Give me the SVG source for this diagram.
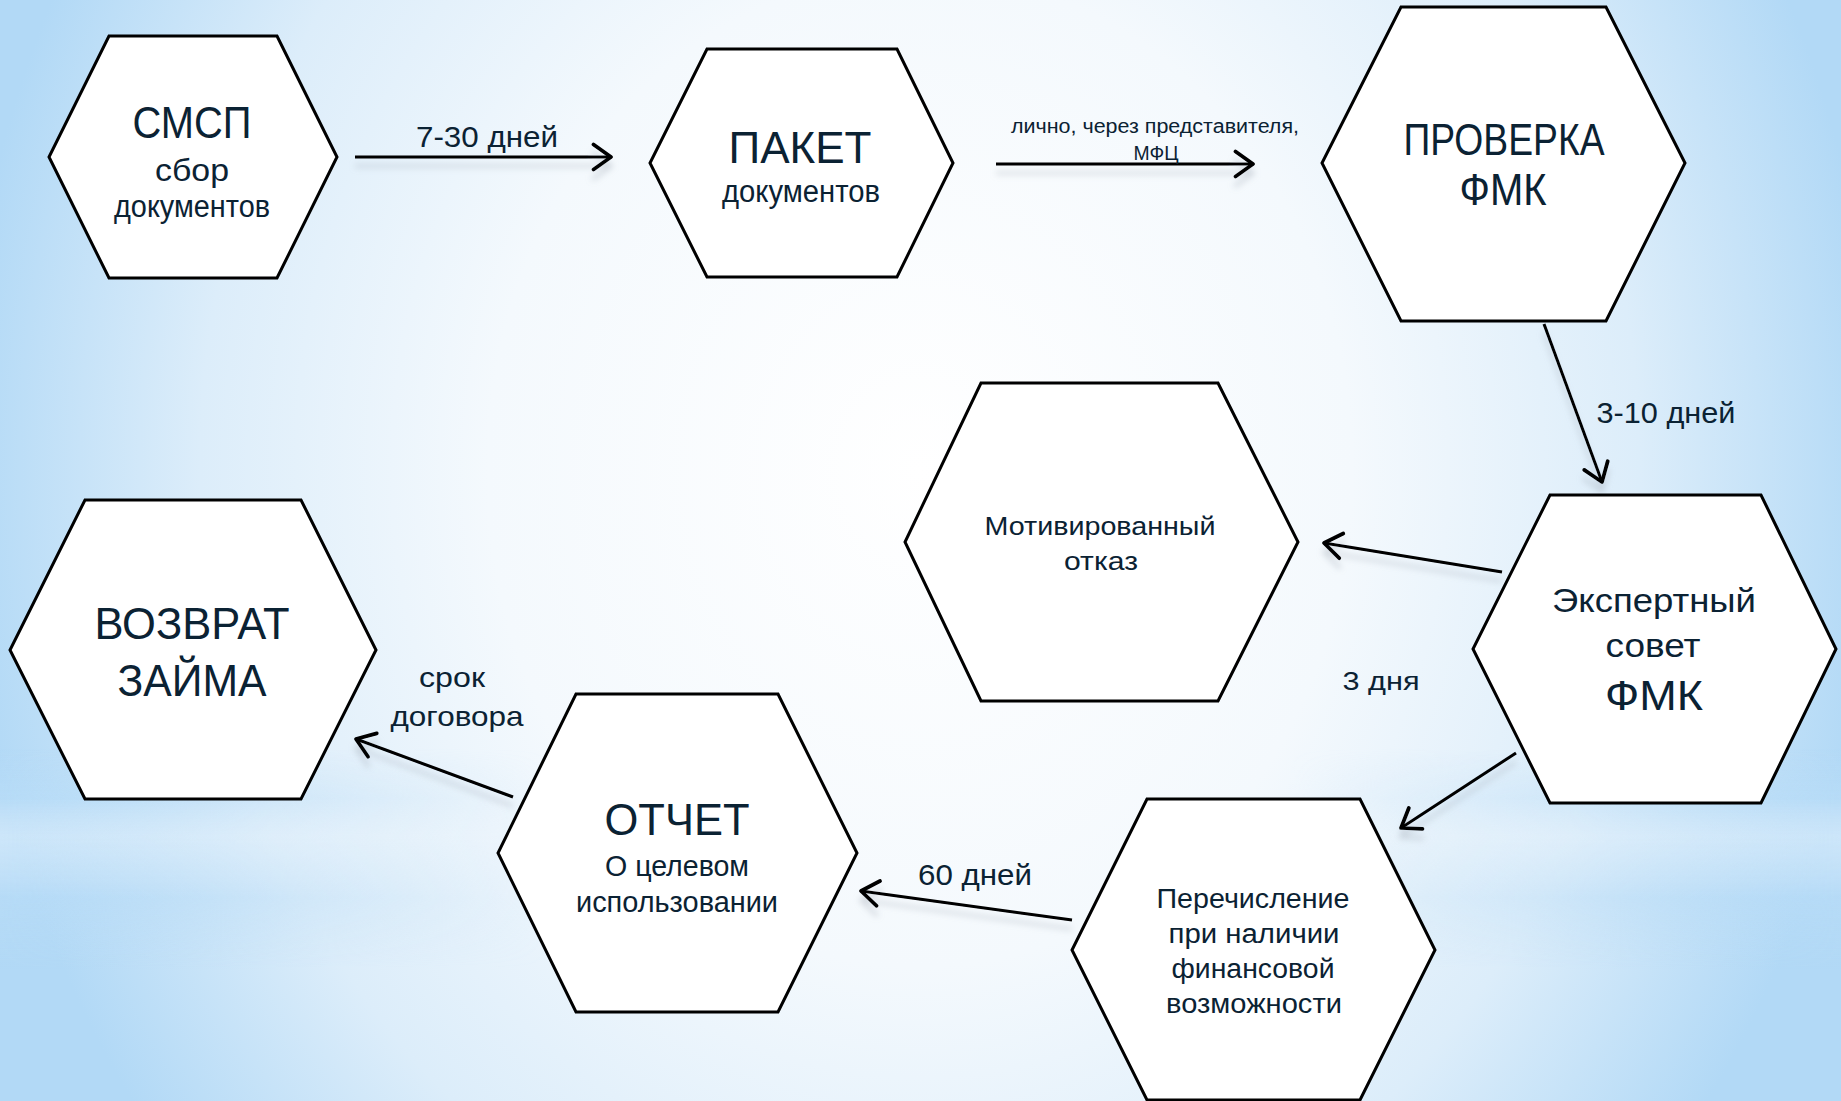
<svg xmlns="http://www.w3.org/2000/svg" width="1841" height="1101" viewBox="0 0 1841 1101">
<defs>
<radialGradient id="bg" gradientUnits="userSpaceOnUse" cx="920" cy="470" r="960" gradientTransform="translate(920 470) scale(1 1.15) translate(-920 -470)">
<stop offset="0" stop-color="#ffffff"/>
<stop offset="0.45" stop-color="#f4f9fd"/>
<stop offset="0.75" stop-color="#dcedfa"/>
<stop offset="1" stop-color="#b2d9f6"/>
</radialGradient>
<linearGradient id="band" x1="0" y1="0" x2="0" y2="1101" gradientUnits="userSpaceOnUse">
<stop offset="0.68" stop-color="#b8dcf7" stop-opacity="0"/>
<stop offset="0.725" stop-color="#b8dcf7" stop-opacity="0.7"/>
<stop offset="0.76" stop-color="#e6f2fc" stop-opacity="0.5"/>
<stop offset="0.815" stop-color="#b8dcf7" stop-opacity="0.7"/>
<stop offset="0.88" stop-color="#b8dcf7" stop-opacity="0"/>
</linearGradient>
<linearGradient id="fadeX" x1="0" y1="0" x2="1841" y2="0" gradientUnits="userSpaceOnUse">
<stop offset="0" stop-color="#fff"/>
<stop offset="0.3" stop-color="#000"/>
<stop offset="0.7" stop-color="#000"/>
<stop offset="1" stop-color="#fff"/>
</linearGradient>
<mask id="edgeMask"><rect width="1841" height="1101" fill="url(#fadeX)"/></mask>
<filter id="shadow" x="-20%" y="-50%" width="140%" height="200%">
<feDropShadow dx="0" dy="9" stdDeviation="3" flood-color="#9aa3ad" flood-opacity="0.4"/>
</filter>
<marker id="arr" markerUnits="userSpaceOnUse" markerWidth="30" markerHeight="30" viewBox="-16 -12 20 24" refX="0" refY="0" orient="auto">
<path d="M-14,-10 L0,0 L-14,10" fill="none" stroke="#000" stroke-width="3" stroke-linecap="round" stroke-linejoin="round"/>
</marker>
</defs>
<style>
.hex{fill:#ffffff;stroke:#000;stroke-width:3;stroke-linejoin:miter}
.t{font-family:"Liberation Sans",Arial,sans-serif;fill:#0b2233;text-anchor:middle}
.big{font-size:44px}
.sub{font-size:31px}
.lbl{font-size:30px}
.conn{stroke:#000;stroke-width:3;fill:none;marker-end:url(#arr)}
</style>
<rect width="1841" height="1101" fill="url(#bg)"/>
<rect width="1841" height="1101" fill="url(#band)" mask="url(#edgeMask)"/>

<g id="connectors" filter="url(#shadow)">
<line id="c1" class="conn" x1="355" y1="157" x2="611" y2="157"/>
<line id="c2" class="conn" x1="996" y1="164" x2="1253" y2="164"/>
<line id="c3" class="conn" x1="1544" y1="324" x2="1602" y2="482"/>
<line id="c4" class="conn" x1="1502" y1="572" x2="1324" y2="543"/>
<line id="c5" class="conn" x1="1516" y1="753" x2="1401" y2="828"/>
<line id="c6" class="conn" x1="1072" y1="920" x2="861" y2="891"/>
<line id="c7" class="conn" x1="513" y1="797" x2="356" y2="739"/>
</g>

<g id="labels">
<text class="t lbl" x="487" y="147" textLength="142" lengthAdjust="spacingAndGlyphs">7-30 дней</text>
<text class="t" style="font-size:20px" x="1155" y="133" textLength="288" lengthAdjust="spacingAndGlyphs">лично, через представителя,</text>
<text class="t" style="font-size:20px" x="1156" y="160" textLength="45" lengthAdjust="spacingAndGlyphs">МФЦ</text>
<text class="t lbl" x="1666" y="423" textLength="139" lengthAdjust="spacingAndGlyphs">3-10 дней</text>
<text class="t" style="font-size:26px" x="1381" y="690" textLength="77" lengthAdjust="spacingAndGlyphs">3 дня</text>
<text class="t lbl" x="975" y="885" textLength="114" lengthAdjust="spacingAndGlyphs">60 дней</text>
<text class="t" style="font-size:28px" x="452" y="687" textLength="66" lengthAdjust="spacingAndGlyphs">срок</text>
<text class="t" style="font-size:28px" x="457" y="726" textLength="133" lengthAdjust="spacingAndGlyphs">договора</text>
</g>

<g id="node-smsp">
<polygon class="hex" points="109,36 277,36 337,157 277,278 109,278 49,157"/>
<text class="t big" x="192" y="138" textLength="119" lengthAdjust="spacingAndGlyphs">СМСП</text>
<text class="t sub" x="192" y="181" textLength="74" lengthAdjust="spacingAndGlyphs">сбор</text>
<text class="t sub" x="192" y="217" textLength="156" lengthAdjust="spacingAndGlyphs">документов</text>
</g>

<g id="node-paket">
<polygon class="hex" points="707,49 897,49 953,163 897,277 707,277 650,163"/>
<text class="t big" x="800" y="163" textLength="143" lengthAdjust="spacingAndGlyphs">ПАКЕТ</text>
<text class="t sub" x="801" y="202" textLength="158" lengthAdjust="spacingAndGlyphs">документов</text>
</g>

<g id="node-proverka">
<polygon class="hex" points="1401,7 1606,7 1685,163 1606,321 1401,321 1322,163"/>
<text class="t big" x="1504" y="155" textLength="201" lengthAdjust="spacingAndGlyphs">ПРОВЕРКА</text>
<text class="t big" x="1503" y="205" textLength="87" lengthAdjust="spacingAndGlyphs">ФМК</text>
</g>

<g id="node-expert">
<polygon class="hex" points="1550,495 1761,495 1836,649 1761,803 1550,803 1473,649"/>
<text class="t" style="font-size:34px" x="1654" y="612" textLength="204" lengthAdjust="spacingAndGlyphs">Экспертный</text>
<text class="t" style="font-size:34px" x="1653" y="657" textLength="95" lengthAdjust="spacingAndGlyphs">совет</text>
<text class="t" style="font-size:42px" x="1654" y="710" textLength="98" lengthAdjust="spacingAndGlyphs">ФМК</text>
</g>

<g id="node-otkaz">
<polygon class="hex" points="981,383 1218,383 1298,542 1218,701 981,701 905,542"/>
<text class="t" style="font-size:25px" x="1100" y="535" textLength="231" lengthAdjust="spacingAndGlyphs">Мотивированный</text>
<text class="t" style="font-size:25px" x="1101" y="570" textLength="74" lengthAdjust="spacingAndGlyphs">отказ</text>
</g>

<g id="node-perech">
<polygon class="hex" points="1147,799 1360,799 1435,950 1360,1100 1147,1100 1072,950"/>
<text class="t" style="font-size:27px" x="1253" y="908" textLength="193" lengthAdjust="spacingAndGlyphs">Перечисление</text>
<text class="t" style="font-size:27px" x="1254" y="943" textLength="171" lengthAdjust="spacingAndGlyphs">при наличии</text>
<text class="t" style="font-size:27px" x="1253" y="978" textLength="163" lengthAdjust="spacingAndGlyphs">финансовой</text>
<text class="t" style="font-size:27px" x="1254" y="1013" textLength="176" lengthAdjust="spacingAndGlyphs">возможности</text>
</g>

<g id="node-otchet">
<polygon class="hex" points="576,694 778,694 857,853 778,1012 576,1012 498,853"/>
<text class="t big" x="677" y="835" textLength="145" lengthAdjust="spacingAndGlyphs">ОТЧЕТ</text>
<text class="t" style="font-size:30px" x="677" y="876" textLength="144" lengthAdjust="spacingAndGlyphs">О целевом</text>
<text class="t" style="font-size:30px" x="677" y="912" textLength="202" lengthAdjust="spacingAndGlyphs">использовании</text>
</g>

<g id="node-vozvrat">
<polygon class="hex" points="85,500 301,500 376,650 301,799 85,799 10,650"/>
<text class="t big" x="192" y="639" textLength="195" lengthAdjust="spacingAndGlyphs">ВОЗВРАТ</text>
<text class="t big" x="192" y="696" textLength="149" lengthAdjust="spacingAndGlyphs">ЗАЙМА</text>
</g>
</svg>
